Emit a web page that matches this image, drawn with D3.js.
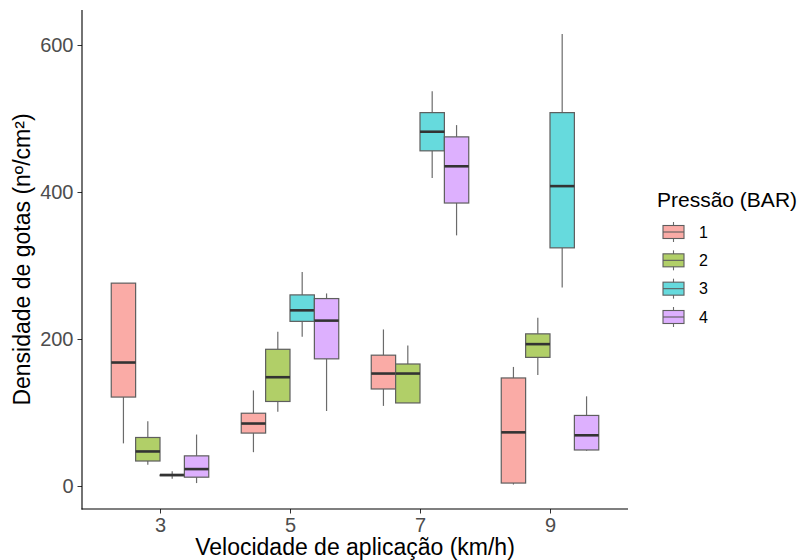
<!DOCTYPE html>
<html>
<head>
<meta charset="utf-8">
<script src="https://cdn.jsdelivr.net/npm/d3@7"></script>
<style>
  html, body { margin: 0; padding: 0; background: #ffffff; }
  svg { display: block; font-family: "Liberation Sans", Arial, sans-serif; }
</style>
</head>
<body>
<svg id="chart" width="800" height="560"></svg>
<script>
// ---- Data ----
const speeds = ["3", "5", "7", "9"];
const pressures = ["1", "2", "3", "4"];
const yTicks = [0, 200, 400, 600];
// each entry: [lower whisker, Q1, median, Q3, upper whisker] per speed
const pressure1 = [[58, 121, 168, 276, 276], [46, 72, 85, 99, 130], [109, 132, 153, 178, 213], [2, 4, 73, 147, 162]];
const pressure2 = [[29, 34, 47, 66, 88], [101, 115, 148, 186, 210], [113, 113, 153, 166, 191], [151, 175, 193, 207, 229]];
const pressure3 = [[10, 14, 15, 15, 20], [203, 224, 239, 260, 291], [419, 456, 482, 508, 537], [270, 324, 408, 508, 615]];
const pressure4 = [[4, 12, 23, 41, 70], [102, 173, 225, 255, 262], [341, 385, 435, 475, 491], [48, 49, 69, 96, 122]];
const seriesStats = [pressure1, pressure2, pressure3, pressure4];
const fills = ["#FAABA6", "#B1CF68", "#66DADD", "#DDB0FE"];

// ---- Layout ----
const svg = d3.select("#chart");
const panel = { left: 82, right: 628, top: 10, bottom: 509 };

const x = d3.scalePoint().domain(speeds).range([panel.left, panel.right]).padding(0.6);
const step = x.step();
const dodge = d3.scaleBand().domain(pressures).range([-0.375 * step, 0.375 * step]).padding(0);
const y = d3.scaleLinear().domain([0, 600]).range([486, 45]);

// ---- Boxes ----
const boxes = [];
pressures.forEach((p, pi) => {
  speeds.forEach((s, si) => {
    const st = seriesStats[pi][si];
    boxes.push({ p, s, fill: fills[pi], lo: st[0], q1: st[1], med: st[2], q3: st[3], hi: st[4] });
  });
});

const g = svg.append("g");
const bw = dodge.bandwidth();
boxes.forEach(b => {
  const x0 = x(b.s) + dodge(b.p);
  const cx = x0 + bw / 2;
  // whiskers
  g.append("line").attr("x1", cx).attr("x2", cx).attr("y1", y(b.hi)).attr("y2", y(b.q3))
    .attr("stroke", "#6b6b6b").attr("stroke-width", 1.2);
  g.append("line").attr("x1", cx).attr("x2", cx).attr("y1", y(b.q1)).attr("y2", y(b.lo))
    .attr("stroke", "#6b6b6b").attr("stroke-width", 1.2);
  // box
  g.append("rect").attr("x", x0).attr("y", y(b.q3)).attr("width", bw)
    .attr("height", Math.max(0, y(b.q1) - y(b.q3)))
    .attr("fill", b.fill).attr("stroke", "#5e5e5e").attr("stroke-width", 1.2);
  // median
  g.append("line").attr("x1", x0).attr("x2", x0 + bw).attr("y1", y(b.med)).attr("y2", y(b.med))
    .attr("stroke", "#333333").attr("stroke-width", 2.6);
});

// ---- Axes ----
const xAxis = svg.append("g").attr("transform", `translate(0,${panel.bottom})`)
  .call(d3.axisBottom(x).tickSize(4.5).tickSizeOuter(0).tickPadding(4));
xAxis.select(".domain").remove();
xAxis.append("line").attr("x1", panel.left - 0.5).attr("x2", panel.right).attr("y1", 0).attr("y2", 0)
  .attr("stroke", "#000").attr("stroke-width", 1.1);
xAxis.selectAll(".tick line").attr("stroke", "#333");
xAxis.selectAll(".tick text").attr("fill", "#4D4D4D").attr("font-size", 20)
  .attr("font-family", "Liberation Sans, Arial, sans-serif");

const yAxis = svg.append("g").attr("transform", `translate(${panel.left},0)`)
  .call(d3.axisLeft(y).tickValues(yTicks).tickSize(4.5).tickSizeOuter(0).tickPadding(4));
yAxis.select(".domain").remove();
yAxis.append("line").attr("x1", 0).attr("x2", 0).attr("y1", panel.top).attr("y2", panel.bottom + 0.5)
  .attr("stroke", "#000").attr("stroke-width", 1.1);
yAxis.selectAll(".tick line").attr("stroke", "#333");
yAxis.selectAll(".tick text").attr("fill", "#4D4D4D").attr("font-size", 20)
  .attr("font-family", "Liberation Sans, Arial, sans-serif");

// ---- Titles ----
svg.append("text").attr("x", (panel.left + panel.right) / 2).attr("y", 555)
  .attr("text-anchor", "middle").attr("font-size", 23).attr("fill", "#000")
  .text("Velocidade de aplicação (km/h)");
svg.append("text").attr("transform", `translate(30,${(panel.top + panel.bottom) / 2}) rotate(-90)`)
  .attr("text-anchor", "middle").attr("font-size", 23).attr("fill", "#000")
  .text("Densidade de gotas (nº/cm²)");

// ---- Legend ----
const leg = svg.append("g").attr("transform", "translate(657,0)");
leg.append("text").attr("x", 0).attr("y", 207).attr("font-size", 21).attr("fill", "#000").text("Pressão (BAR)");
const keyY = d3.scalePoint().domain(pressures).range([232, 317]);
pressures.forEach((p, i) => {
  const cy = keyY(p);
  const kg = leg.append("g");
  kg.append("line").attr("x1", 16.5).attr("x2", 16.5).attr("y1", cy - 10).attr("y2", cy + 10)
    .attr("stroke", "#6b6b6b").attr("stroke-width", 1.1);
  kg.append("rect").attr("x", 6).attr("y", cy - 6.5).attr("width", 21).attr("height", 13)
    .attr("fill", fills[i]).attr("stroke", "#5e5e5e").attr("stroke-width", 1.1);
  kg.append("line").attr("x1", 6).attr("x2", 27).attr("y1", cy).attr("y2", cy)
    .attr("stroke", "#5e5e5e").attr("stroke-width", 1.1);
  leg.append("text").attr("x", 42).attr("y", cy).attr("dy", "0.36em")
    .attr("font-size", 16).attr("fill", "#000").text(p);
});
</script>
</body>
</html>
